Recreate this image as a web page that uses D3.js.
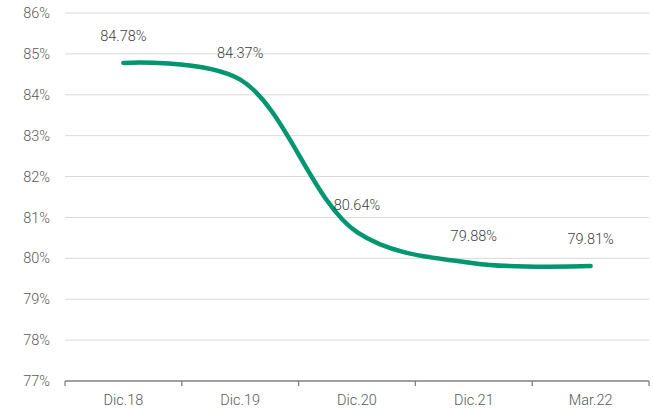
<!DOCTYPE html>
<html>
<head>
<meta charset="utf-8">
<script src="https://cdn.jsdelivr.net/npm/d3@7"></script>
<style>
  body { margin: 0; background: #fff; }
  svg { display: block; font-family: Roboto, "Liberation Sans", sans-serif; font-weight: 300; }
</style>
</head>
<body>
<svg id="chart" width="653" height="412"></svg>
<script>
const categories = ["Dic.18", "Dic.19", "Dic.20", "Dic.21", "Mar.22"];
const values = [84.78, 84.37, 80.64, 79.88, 79.81];
const yTicks = [77, 78, 79, 80, 81, 82, 83, 84, 85, 86];

const margin = { top: 13, right: 4, bottom: 31, left: 65 };
const width = 653 - margin.left - margin.right;
const height = 412 - margin.top - margin.bottom;

const svg = d3.select("#chart");
const g = svg.append("g").attr("transform", `translate(${margin.left},${margin.top})`);

const x = d3.scaleBand().domain(categories).range([0, width]);
const y = d3.scaleLinear().domain([77, 86]).range([height, 0]);

// gridlines
g.selectAll(".grid")
    .data(yTicks.filter((d) => d > 77))
    .enter()
    .append("line")
    .attr("x1", 0)
    .attr("x2", width)
    .attr("y1", (d) => y(d))
    .attr("y2", (d) => y(d))
    .attr("stroke", "#d9d9d9")
    .attr("stroke-width", 1);

// y labels
g.selectAll(".ylab")
    .data(yTicks)
    .enter()
    .append("text")
    .attr("x", -15)
    .attr("y", (d) => y(d))
    .attr("dy", "0.35em")
    .attr("text-anchor", "end")
    .attr("fill", "#595959")
    .attr("font-size", 14.5)
    .text((d) => d + "%");

// x axis
g.append("line")
    .attr("x1", 0)
    .attr("x2", width)
    .attr("y1", height)
    .attr("y2", height)
    .attr("stroke", "#808080")
    .attr("stroke-width", 1.3);

const bounds = categories.map((c) => x(c)).concat([width]);
g.selectAll(".xtick")
    .data(bounds)
    .enter()
    .append("line")
    .attr("x1", (d) => d)
    .attr("x2", (d) => d)
    .attr("y1", height)
    .attr("y2", height + 5)
    .attr("stroke", "#808080")
    .attr("stroke-width", 1.3);

g.selectAll(".xlab")
    .data(categories)
    .enter()
    .append("text")
    .attr("x", (d) => x(d) + x.bandwidth() / 2)
    .attr("y", height + 24)
    .attr("text-anchor", "middle")
    .attr("fill", "#595959")
    .attr("font-size", 14.5)
    .text((d) => d);

// line
const line = d3
    .line()
    .x((d, i) => x(categories[i]) + x.bandwidth() / 2)
    .y((d) => y(d))
    .curve(d3.curveCatmullRom.alpha(0.5));

g.append("path")
    .datum(values)
    .attr("d", line)
    .attr("fill", "none")
    .attr("stroke", "#00966e")
    .attr("stroke-width", 4.5)
    .attr("stroke-linecap", "round");

// data labels
g.selectAll(".vlab")
    .data(values)
    .enter()
    .append("text")
    .attr("x", (d, i) => x(categories[i]) + x.bandwidth() / 2)
    .attr("y", (d) => y(d) - 22)
    .attr("text-anchor", "middle")
    .attr("fill", "#404040")
    .attr("font-size", 14.5)
    .text((d) => d.toFixed(2) + "%");
</script>
</body>
</html>
